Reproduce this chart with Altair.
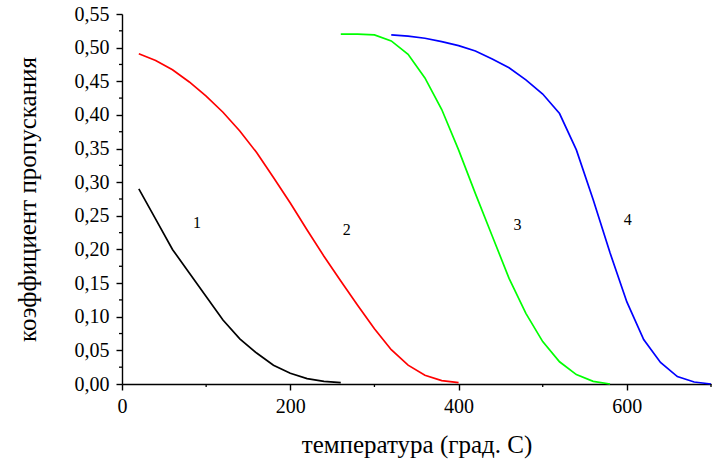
import altair as alt
import pandas as pd

# Transmission coefficient vs temperature, four curves
t1 = [20, 40, 60, 80, 100, 120, 140, 160, 180, 200, 220, 240, 260]
k1 = [0.290, 0.245, 0.200, 0.165, 0.130, 0.095, 0.067, 0.046, 0.028, 0.016, 0.008, 0.004, 0.002]

t2 = [20, 40, 60, 80, 100, 120, 140, 160, 180, 200, 220, 240, 260, 280, 300, 320, 340, 360, 380, 400]
k2 = [0.491, 0.481, 0.467, 0.449, 0.428, 0.404, 0.376, 0.344, 0.307, 0.269, 0.229, 0.190,
      0.153, 0.117, 0.082, 0.051, 0.028, 0.013, 0.005, 0.002]

t3 = [260, 280, 300, 320, 340, 360, 380, 400, 420, 440, 460, 480, 500, 520, 540, 560, 580]
k3 = [0.520, 0.520, 0.519, 0.510, 0.490, 0.455, 0.408, 0.348, 0.283, 0.220, 0.157, 0.105,
      0.063, 0.033, 0.014, 0.004, 0.000]

t4 = [320, 340, 360, 380, 400, 420, 440, 460, 480, 500, 520, 540, 560, 580, 600, 620, 640, 660, 680, 700]
k4 = [0.519, 0.517, 0.514, 0.509, 0.503, 0.495, 0.483, 0.470, 0.452, 0.431, 0.402, 0.348,
      0.274, 0.195, 0.122, 0.066, 0.032, 0.011, 0.003, 0.000]

curve_ids = ["1", "2", "3", "4"]
curve_colors = ["#000000", "#ff0000", "#00ff00", "#0000ff"]

# Curve number annotations
label_text = ["1", "2", "3", "4"]
label_t = [89, 267, 470, 601]
label_k = [0.239, 0.229, 0.237, 0.244]

# Axis ticks
x_major = [0, 200, 400, 600]
x_minor = [100, 300, 500, 700]
y_major = [round(0.05 * i, 2) for i in range(12)]
y_minor = [round(0.025 + 0.05 * i, 3) for i in range(11)]

FONT = "Liberation Serif"
W, H = 589, 370

rows = []
for cid, ts, ks in zip(curve_ids, [t1, t2, t3, t4], [k1, k2, k3, k4]):
    for t, k in zip(ts, ks):
        rows.append({"curve": cid, "t": t, "k": k})
curves = pd.DataFrame(rows)

labels = pd.DataFrame({"txt": label_text, "t": label_t, "k": label_k})
xmin_df = pd.DataFrame({"t": x_minor})
ymin_df = pd.DataFrame({"k": y_minor})

xscale = alt.Scale(domain=[0, 700], nice=False, zero=False)
yscale = alt.Scale(domain=[0, 0.55], nice=False, zero=False)

xaxis = alt.Axis(values=x_major, format="d", title="температура (град. С)",
                 tickSize=6, labelPadding=6, titlePadding=16, grid=False,
                 labelFlush=False)
yaxis = alt.Axis(values=y_major, title="коэффициент пропускания",
                 labelExpr="replace(format(datum.value, '.2f'), '.', ',')",
                 tickSize=6, labelPadding=7, titlePadding=34, grid=False,
                 labelFlush=False)

X = alt.X("t:Q", scale=xscale, axis=xaxis)
Y = alt.Y("k:Q", scale=yscale, axis=yaxis)

lines = alt.Chart(curves).mark_line(strokeWidth=1.7).encode(
    x=X, y=Y,
    color=alt.Color("curve:N", scale=alt.Scale(domain=curve_ids, range=curve_colors), legend=None),
    detail="curve:N",
)

texts = alt.Chart(labels).mark_text(font=FONT, fontSize=16, color="#000000",
                                    align="center", baseline="middle").encode(
    x=X, y=Y, text="txt:N",
)

# Short minor ticks outside the axes
xminor = alt.Chart(xmin_df).mark_rule(color="#000000", strokeWidth=1.3).encode(
    x=X, y=alt.value(H), y2=alt.value(H + 3),
)
yminor = alt.Chart(ymin_df).mark_rule(color="#000000", strokeWidth=1.3).encode(
    y=Y, x=alt.value(0), x2=alt.value(-3),
)

chart = alt.layer(lines, xminor, yminor, texts).properties(
    width=W, height=H,
    autosize=alt.AutoSizeParams(type="none"),
    padding={"left": 122, "top": 14, "right": 7, "bottom": 79},
    background="#ffffff",
).configure_view(stroke=None).configure_axis(
    domainColor="#000000", domainWidth=1.4, tickColor="#000000", tickWidth=1.4,
    labelFont=FONT, labelFontSize=20, labelColor="#000000",
    titleFont=FONT, titleFontSize=25, titleFontWeight="normal", titleColor="#000000",
)

chart.save("out.html", embed_options={"renderer": "svg", "actions": False})
